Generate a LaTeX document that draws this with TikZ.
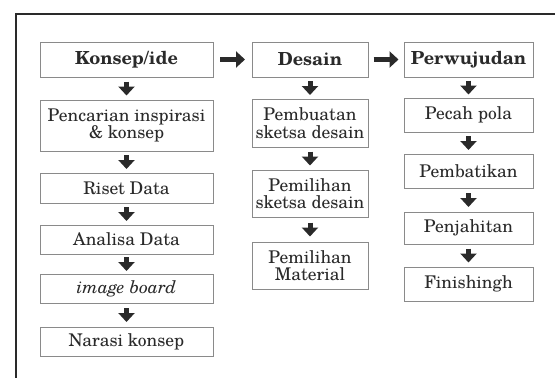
\documentclass[tikz,border=0pt]{standalone}
\usepackage{fontspec}
\setmainfont{TeX Gyre Schola}
\usetikzlibrary{arrows.meta,calc}
\definecolor{boxline}{HTML}{8A8A8A}
\definecolor{ink}{HTML}{2A2A2A}
\tikzset{
  stepbox/.style={draw=boxline, line width=0.9pt, fill=white, text=ink, inner sep=0pt, align=center,
    font=\fontsize{17.5}{17.5}\selectfont},
  headbox/.style={stepbox, font=\fontsize{18}{18}\selectfont\bfseries},
  blockarrow/.style={draw=ink, line width=5pt, -{Triangle[width=16pt,length=9pt]}},
}
\newcommand{\downarr}[2]{\draw[blockarrow] ($(#1.south)!0.5!(#2.north)+(0,-7)$) -- ($(#1.south)!0.5!(#2.north)+(0,7)$);}
\newcommand{\rightarr}[2]{\draw[blockarrow] ($(#1.east)!0.5!(#2.west)+(-12.5,0)$) -- ($(#1.east)!0.5!(#2.west)+(12.5,0)$);}
\begin{document}
\begin{tikzpicture}[x=1pt,y=-1pt]
\useasboundingbox (0,0) rectangle (555,378);
\coordinate (ftl) at (16,14);
\coordinate (ftr) at (555,14);
\coordinate (fbl) at (16,378);
\draw[ink, line width=1.3pt] (ftr) -- (ftl) -- (fbl);
% column 1
\node[headbox, minimum width=173pt, minimum height=35pt] (k0) at (126.5,59.5) {Konsep/ide};
\node[stepbox, minimum width=173pt, minimum height=51pt] (k1) at (126.5,125.5) {Pencarian inspirasi\\\& konsep};
\node[stepbox, minimum width=173pt, minimum height=30pt] (k2) at (126.5,188) {Riset Data};
\node[stepbox, minimum width=173pt, minimum height=29pt] (k3) at (126.5,239.5) {Analisa Data};
\node[stepbox, minimum width=173pt, minimum height=29pt] (k4) at (126.5,288.5) {\itshape image board};
\node[stepbox, minimum width=173pt, minimum height=29pt] (k5) at (126.5,341.5) {Narasi konsep};
% column 2
\node[headbox, minimum width=116pt, minimum height=35pt] (d0) at (310,59.5) {Desain};
\node[stepbox, minimum width=116pt, minimum height=48pt] (d1) at (310,123) {Pembuatan\\sketsa desain};
\node[stepbox, minimum width=116pt, minimum height=47pt] (d2) at (310,193.5) {Pemilihan\\sketsa desain};
\node[stepbox, minimum width=116pt, minimum height=47pt] (d3) at (310,265.5) {Pemilihan\\Material};
% column 3
\node[headbox, minimum width=129pt, minimum height=35pt] (p0) at (468.5,59.5) {Perwujudan};
\node[stepbox, minimum width=129pt, minimum height=34pt] (p1) at (468.5,115) {Pecah pola};
\node[stepbox, minimum width=129pt, minimum height=34pt] (p2) at (468.5,171) {Pembatikan};
\node[stepbox, minimum width=129pt, minimum height=32pt] (p3) at (468.5,228) {Penjahitan};
\node[stepbox, minimum width=129pt, minimum height=34pt] (p4) at (468.5,284) {Finishingh};
% arrows
\rightarr{k0}{d0}
\rightarr{d0}{p0}
\downarr{k0}{k1}\downarr{k1}{k2}\downarr{k2}{k3}\downarr{k3}{k4}\downarr{k4}{k5}
\downarr{d0}{d1}\downarr{d1}{d2}\downarr{d2}{d3}
\downarr{p0}{p1}\downarr{p1}{p2}\downarr{p2}{p3}\downarr{p3}{p4}
\end{tikzpicture}
\end{document}
